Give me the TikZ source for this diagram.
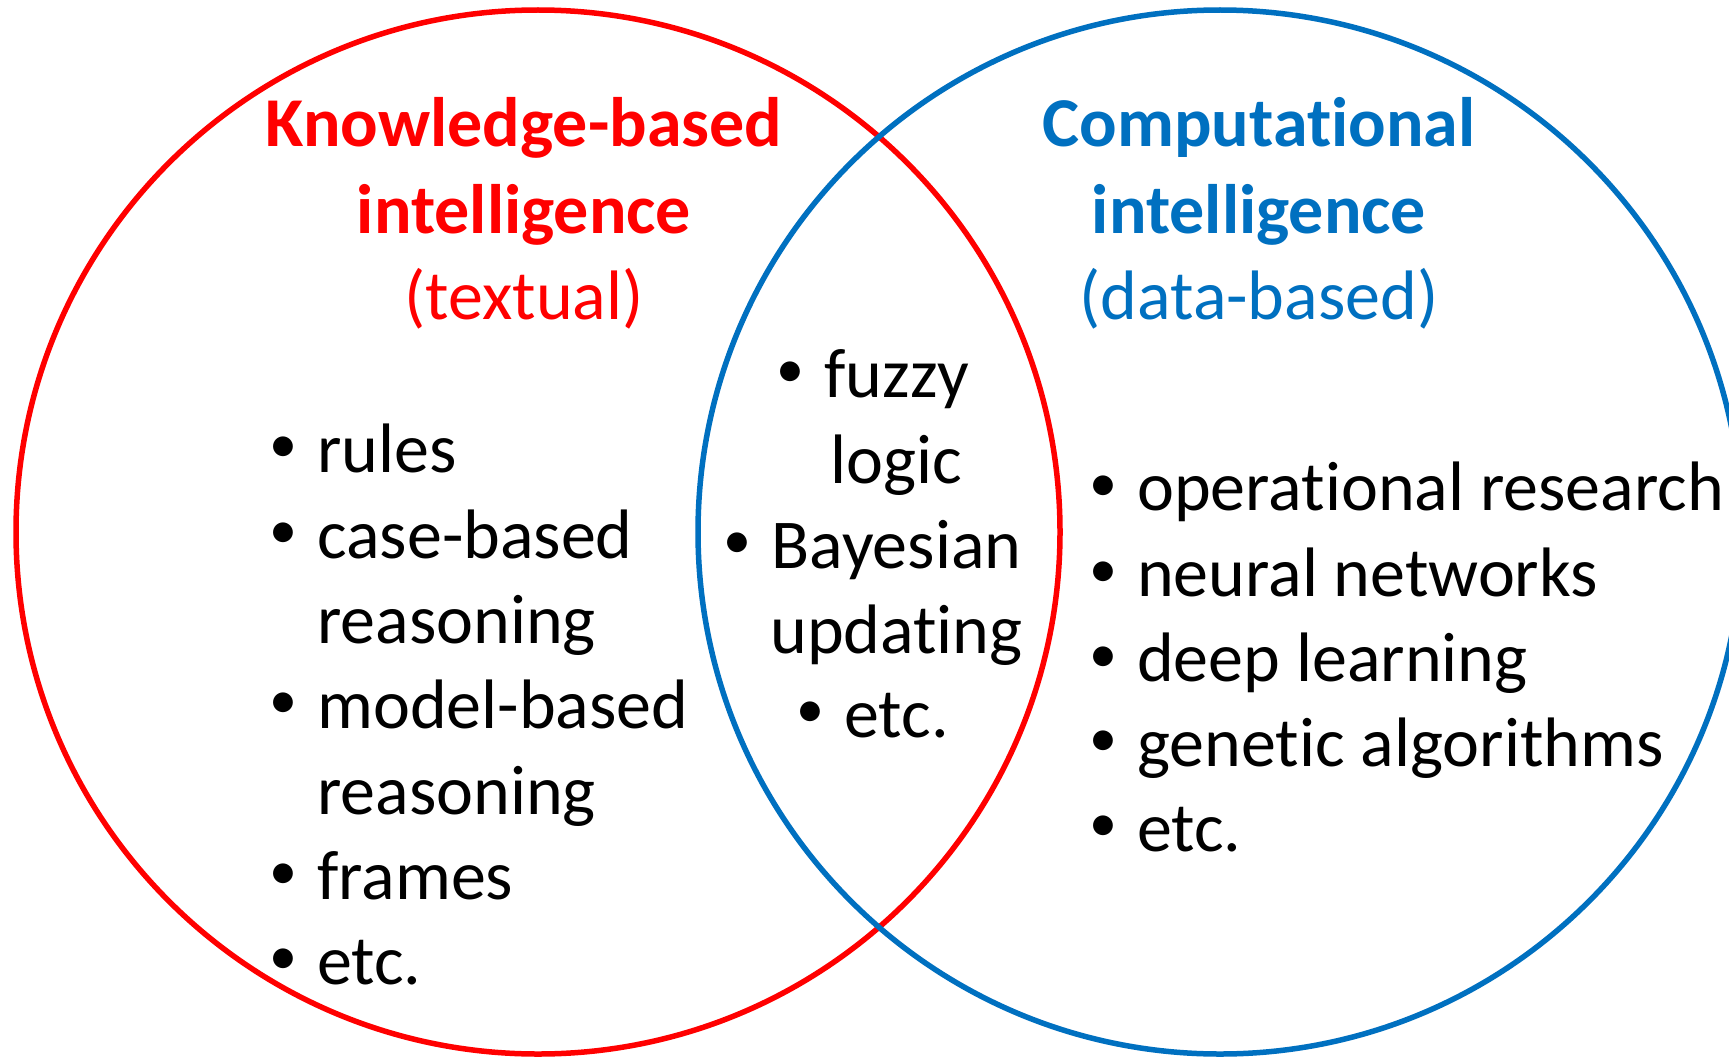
\documentclass[tikz,border=0pt]{standalone}
\usepackage{fontspec}
\setmainfont{Carlito}[Ligatures=NoCommon]
\definecolor{kred}{RGB}{255,0,0}
\definecolor{cblue}{RGB}{0,112,192}
\newcommand{\bul}{\llap{\makebox[0.97em][c]{\raisebox{0.135em}{\scalebox{0.8}{\textbullet}}}}}
\begin{document}
\begin{tikzpicture}[x=1pt,y=-1pt,
  ring/.style={circle, draw, line width=5.5pt, minimum size=1044pt, inner sep=0pt},
  txt/.style={inner sep=0pt, font=\fontsize{70}{85}\selectfont},
  ttl/.style={txt, anchor=base, font=\fontsize{70}{85}\selectfont\bfseries},
  sub/.style={txt, anchor=base},
  li/.style={txt, anchor=base west},
  mi/.style={txt, anchor=base}]
\useasboundingbox (0,0) rectangle (1729,1057);
\clip (0,0) rectangle (1729,1057);
\fill[white] (0,0) rectangle (1729,1057);
\node[ring, kred] (kb) at (538,532) {};
\node[ring, cblue] (ci) at (1220,532) {};
% titles
\node[ttl, kred] (t1a) at (524,146.7) {Knowledge-based};
\node[ttl, kred] (t1b) at (524,233.8) {intelligence};
\node[sub, kred] (t1c) at (524,319.8) {(textual)};
\node[ttl, cblue] (t2a) at (1259,146.7) {Computational};
\node[ttl, cblue] (t2b) at (1259,233.8) {intelligence};
\node[sub, cblue] (t2c) at (1259,319.8) {(data-based)};
% left list
\node[li] (l1) at (317,472) {\bul rules};
\node[li] (l2) at (317,558) {\bul case-based};
\node[li] (l3) at (317,643) {reasoning};
\node[li] (l4) at (317,728) {\bul model-based};
\node[li] (l5) at (317,814) {reasoning};
\node[li] (l6) at (317,899) {\bul frames};
\node[li] (l7) at (317,984) {\bul etc.};
% middle list
\node[mi] (m1) at (896.5,397) {\bul fuzzy};
\node[mi] (m2) at (896.5,483) {logic};
\node[mi] (m3) at (896.5,568) {\bul Bayesian};
\node[mi] (m4) at (896.5,653) {updating};
\node[mi] (m5) at (896.5,737) {\bul etc.};
% right list
\node[li] (r1) at (1137,510.5) {\bul operational research};
\node[li] (r2) at (1137,596.5) {\bul neural networks};
\node[li] (r3) at (1137,681.5) {\bul deep learning};
\node[li] (r4) at (1137,766) {\bul genetic algorithms};
\node[li] (r5) at (1137,851) {\bul etc.};
\end{tikzpicture}
\end{document}
